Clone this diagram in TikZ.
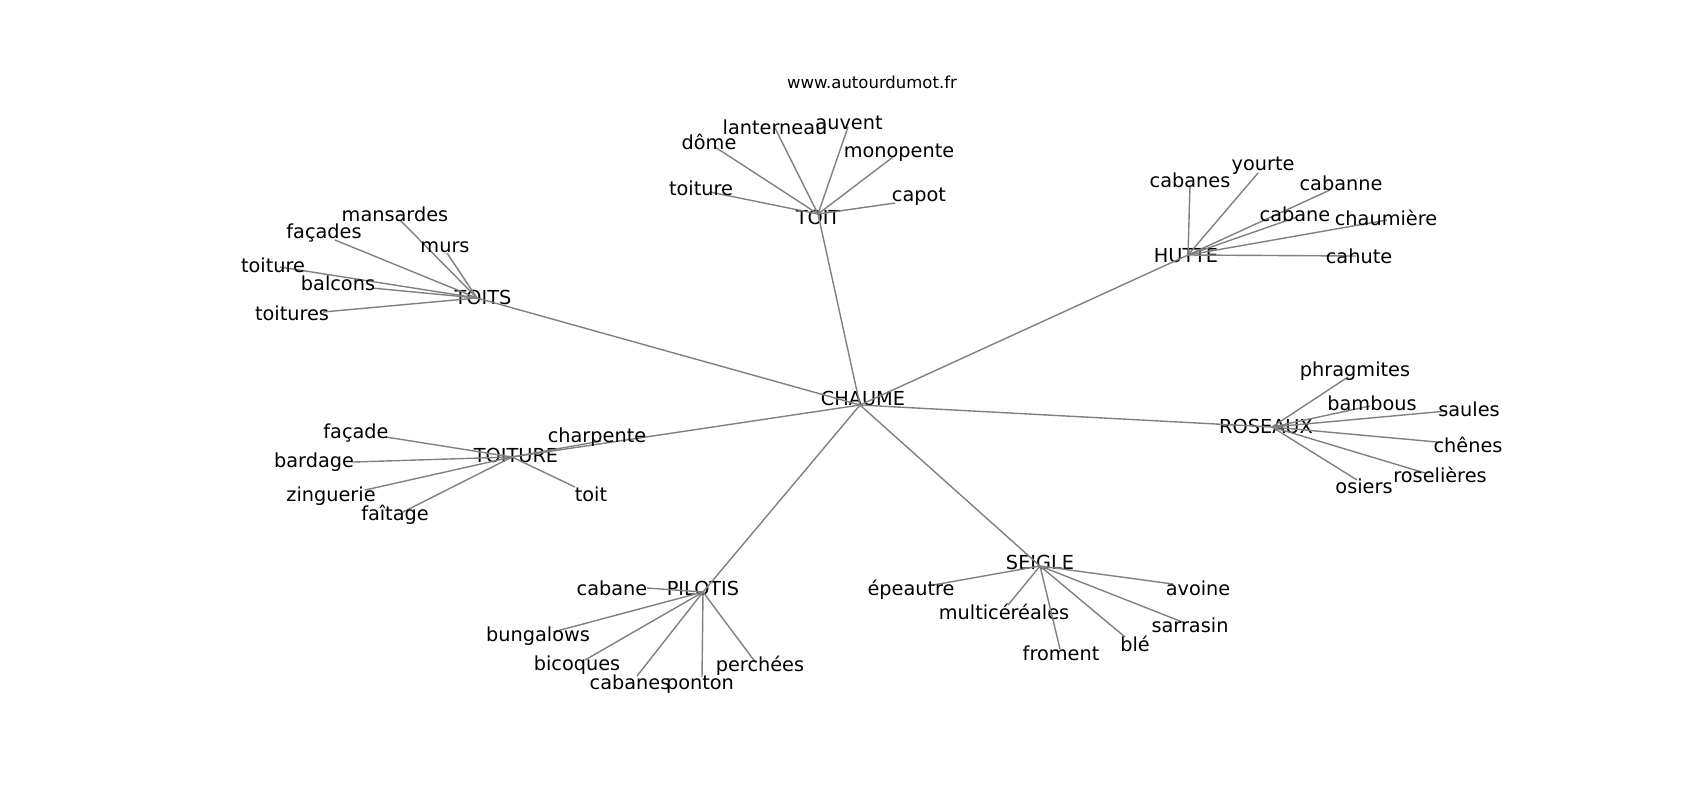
\documentclass[tikz,border=0pt]{standalone}
\usepackage{fontspec}
\setmainfont{DejaVu Sans}
\usepackage{tikz}
\usepackage{xcolor}

\definecolor{linkgray}{RGB}{128,128,128}
\tikzset{
    word/.style={inner sep=0pt, font=\fontsize{9.65}{11.5}\selectfont},
    credit/.style={inner sep=0pt, font=\fontsize{8.25}{10}\selectfont},
    link/.style={draw=linkgray, line width=0.7pt},
}

\begin{document}
\begin{tikzpicture}[x=0.5pt, y=-0.5pt]
        \useasboundingbox (0,0) rectangle (1700,800);
        % Hubs: name / text position / meeting point of the links
        \foreach \n/\tx/\ty/\ex/\ey in {CHAUME/863/398/860/405, TOIT/818/217/818/214,
            TOITS/483/297/477/298, HUTTE/1186/256/1188/255, ROSEAUX/1266/426/1272/427,
            SEIGLE/1040/562/1040/566, PILOTIS/703/588/703/592, TOITURE/516/455/512/457} {
            \coordinate (\n-e) at (\ex,\ey);
            \node [word] (\n) at (\tx,\ty) {\n};
        }
        % Links from the centre
        \foreach \h in {TOIT, TOITS, HUTTE, ROSEAUX, SEIGLE, PILOTIS, TOITURE}
            \draw [link] (CHAUME-e) -- (\h-e);
        % TOIT
        \foreach \n/\t/\tx/\ty/\ex/\ey in {toit-toiture/toiture/701/188/710/192,
            toit-dome/dôme/709/142/715/147, toit-lanterneau/lanterneau/775/127/775/128,
            toit-auvent/auvent/849/123/848/127, toit-monopente/monopente/899/153/893/157,
            toit-capot/capot/919/197/895/203} {
            \coordinate (\n-e) at (\ex,\ey);
            \draw [link] (TOIT-e) -- (\n-e);
            \node [word] (\n) at (\tx,\ty) {\t};
        }
        % TOITS
        \foreach \n/\t/\tx/\ty/\ex/\ey in {toits-mansardes/mansardes/395/214/400/220,
            toits-facades/façades/324/233/335/240, toits-murs/murs/445/247/447/253,
            toits-toiture/toiture/273/265/280/267, toits-balcons/balcons/338/283/372/288,
            toits-toitures/toitures/292/313/323/312} {
            \coordinate (\n-e) at (\ex,\ey);
            \draw [link] (TOITS-e) -- (\n-e);
            \node [word] (\n) at (\tx,\ty) {\t};
        }
        % HUTTE
        \foreach \n/\t/\tx/\ty/\ex/\ey in {hutte-cabanes/cabanes/1190/180/1190/185,
            hutte-yourte/yourte/1263/166/1258/173, hutte-cabanne/cabanne/1341/183/1330/190,
            hutte-cabane/cabane/1295/214/1297/217, hutte-chaumiere/chaumière/1386/218/1387/220,
            hutte-cahute/cahute/1359/256/1356/256} {
            \coordinate (\n-e) at (\ex,\ey);
            \draw [link] (HUTTE-e) -- (\n-e);
            \node [word] (\n) at (\tx,\ty) {\t};
        }
        % ROSEAUX
        \foreach \n/\t/\tx/\ty/\ex/\ey in {roseaux-phragmites/phragmites/1355/371/1348/377,
            roseaux-bambous/bambous/1372/403/1370/406, roseaux-saules/saules/1469/409/1447/411,
            roseaux-chenes/chênes/1468/445/1437/442, roseaux-roselieres/roselières/1440/475/1425/473,
            roseaux-osiers/osiers/1364/486/1357/480} {
            \coordinate (\n-e) at (\ex,\ey);
            \draw [link] (ROSEAUX-e) -- (\n-e);
            \node [word] (\n) at (\tx,\ty) {\t};
        }
        % SEIGLE
        \foreach \n/\t/\tx/\ty/\ex/\ey in {seigle-epeautre/épeautre/911/590/933/585,
            seigle-multi/multicéréales/1004/612/1008/605, seigle-froment/froment/1061/653/1060/649,
            seigle-ble/blé/1135/644/1125/637, seigle-sarrasin/sarrasin/1190/625/1185/623,
            seigle-avoine/avoine/1198/588/1173/584} {
            \coordinate (\n-e) at (\ex,\ey);
            \draw [link] (SEIGLE-e) -- (\n-e);
            \node [word] (\n) at (\tx,\ty) {\t};
        }
        % PILOTIS
        \foreach \n/\t/\tx/\ty/\ex/\ey in {pilotis-cabane/cabane/612/588/647/588,
            pilotis-bungalows/bungalows/538/636/553/632, pilotis-bicoques/bicoques/577/665/585/660,
            pilotis-cabanes/cabanes/630/682/637/676, pilotis-ponton/ponton/700/685/702/677,
            pilotis-perchees/perchées/760/666/756/663} {
            \coordinate (\n-e) at (\ex,\ey);
            \draw [link] (PILOTIS-e) -- (\n-e);
            \node [word] (\n) at (\tx,\ty) {\t};
        }
        % TOITURE
        \foreach \n/\t/\tx/\ty/\ex/\ey in {toiture-facade/façade/356/433/386/437,
            toiture-bardage/bardage/314/462/353/462, toiture-zinguerie/zinguerie/331/496/365/490,
            toiture-faitage/faîtage/395/515/403/512, toiture-toit/toit/591/494/575/487,
            toiture-charpente/charpente/597/437/601/441} {
            \coordinate (\n-e) at (\ex,\ey);
            \draw [link] (TOITURE-e) -- (\n-e);
            \node [word] (\n) at (\tx,\ty) {\t};
        }
        % Source
        \node [credit] (source) at (872,82) {www.autourdumot.fr};
    \end{tikzpicture}
\end{document}
